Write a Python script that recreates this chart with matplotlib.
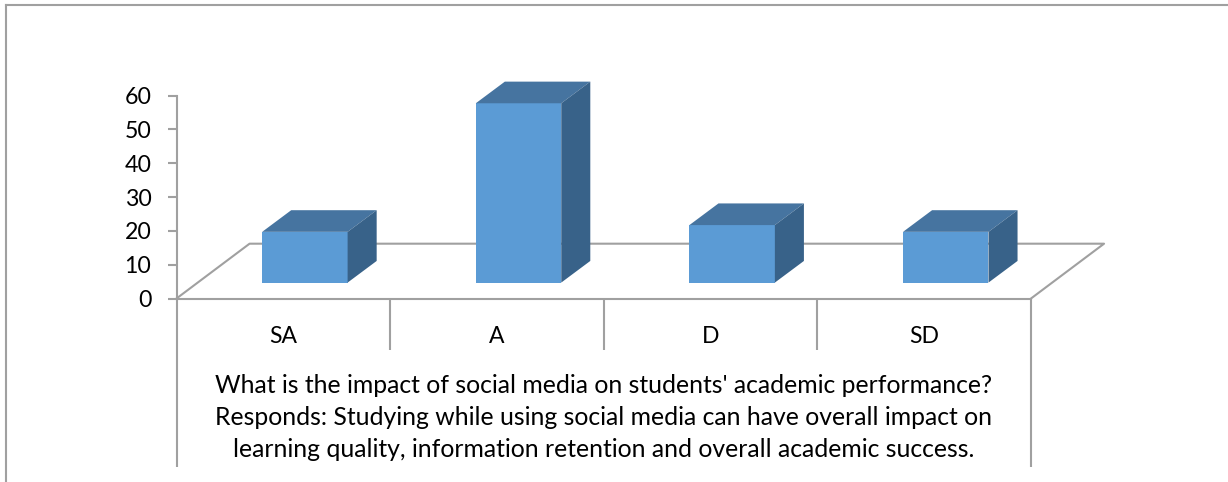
import matplotlib.pyplot as plt
from matplotlib.patches import Polygon
import numpy as np

plt.rcParams['font.family'] = ['Lato', 'DejaVu Sans']

categories = ['SA', 'A', 'D', 'SD']
values = [15, 53, 17, 15]
yticks = [0, 10, 20, 30, 40, 50, 60]
xlabel = ("What is the impact of social media on students' academic performance?\n"
          "Responds: Studying while using social media can have overall impact on\n"
          "learning quality, information retention and overall academic success.")

W, H = 1228, 482
grey = '#a0a0a0'
front = '#5b9bd5'
top = '#4674a0'
side = '#386289'

fig = plt.figure(figsize=(W / 100, H / 100), dpi=100)
ax = fig.add_axes([176.5 / W, (H - 298.5) / H, (1031 - 176.5) / W, 203 / H])
ax.patch.set_visible(False)

x = np.arange(len(categories)) + 0.5

# fake 3d offsets, in axis units
floor_dx, floor_dy = 0.342, 16.2
bar_dx, bar_dy = 0.101, 4.7
depth_dx, depth_dy = 0.136, 6.4
bar_w = 0.4

# floor
ax.plot([0, floor_dx, 4 + floor_dx, 4], [0, floor_dy, floor_dy, 0],
        color=grey, lw=1.5, clip_on=False, zorder=1)

# bars
ax.bar(x + bar_dx, values, width=bar_w, bottom=bar_dy, color=front, zorder=3, clip_on=False)
for xi, v in zip(x, values):
    l = xi + bar_dx - bar_w / 2
    r = l + bar_w
    t = bar_dy + v
    ax.add_patch(Polygon([(l, t), (r, t), (r + depth_dx, t + depth_dy), (l + depth_dx, t + depth_dy)],
                         facecolor=top, edgecolor='none', zorder=3, clip_on=False))
    ax.add_patch(Polygon([(r, bar_dy), (r + depth_dx, bar_dy + depth_dy),
                          (r + depth_dx, t + depth_dy), (r, t)],
                         facecolor=side, edgecolor='none', zorder=3, clip_on=False))

ax.set_xlim(0, 4)
ax.set_ylim(0, 60)
ax.set_yticks(yticks)
ax.set_xticks(x, categories)
ax.tick_params(axis='y', length=6.5, width=1.5, color=grey, labelsize=16.7, pad=11.5, labelcolor='black')
ax.tick_params(axis='x', length=0, labelsize=16.5, pad=20, labelcolor='black')
ax.set_xlabel(xlabel, fontsize=17.8, labelpad=19, linespacing=1.48)

for s in ['top', 'right']:
    ax.spines[s].set_visible(False)
for s in ['left', 'bottom']:
    ax.spines[s].set_color(grey)
    ax.spines[s].set_linewidth(1.5)

# category dividers and long outer lines under the axis
ax.vlines([1, 2, 3], -15.2, 0, color=grey, lw=1.5, clip_on=False)
ax.vlines([0, 4], -49.8, 0, color=grey, lw=1.5, clip_on=False)

# outer frame, only top and left show
fig.add_artist(plt.Line2D([6 / W, 6 / W], [0, (H - 4.5) / H], color=grey, lw=1.5))
fig.add_artist(plt.Line2D([6 / W, 1], [(H - 4.5) / H, (H - 4.5) / H], color=grey, lw=1.5))

fig.savefig('out.png', dpi=100)
